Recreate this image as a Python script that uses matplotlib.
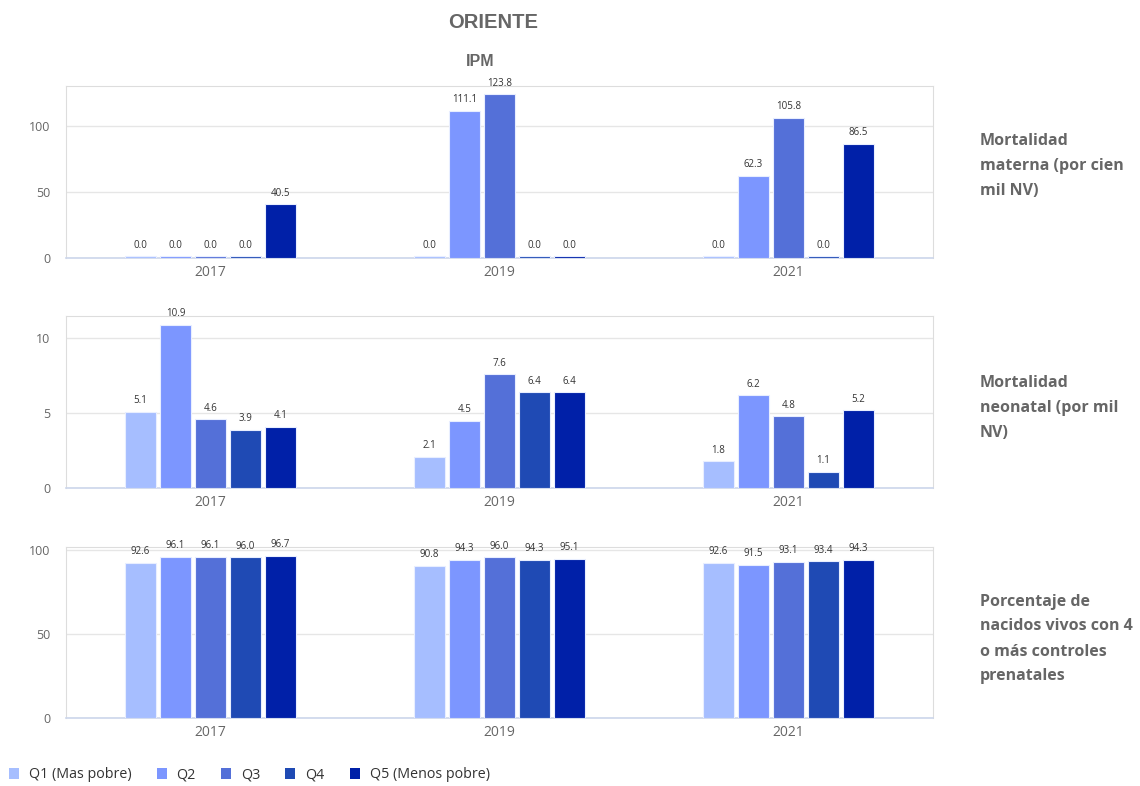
import numpy as np
import matplotlib.pyplot as plt
from matplotlib.patches import Patch

years = ["2017", "2019", "2021"]
quintiles = ["Q1 (Mas pobre)", "Q2", "Q3", "Q4", "Q5 (Menos pobre)"]
colors = ["#a6beff", "#7c96ff", "#5470d8", "#1f4ab4", "#0020a8"]

# valores por quintil (Q1..Q5) para cada año
materna = [[0.0, 0.0, 0.0, 0.0, 40.5],
           [0.0, 111.1, 123.8, 0.0, 0.0],
           [0.0, 62.3, 105.8, 0.0, 86.5]]
neonatal = [[5.1, 10.9, 4.6, 3.9, 4.1],
            [2.1, 4.5, 7.6, 6.4, 6.4],
            [1.8, 6.2, 4.8, 1.1, 5.2]]
controles = [[92.6, 96.1, 96.1, 96.0, 96.7],
             [90.8, 94.3, 96.0, 94.3, 95.1],
             [92.6, 91.5, 93.1, 93.4, 94.3]]

panel_titles = ["Mortalidad\nmaterna (por cien\nmil NV)",
                "Mortalidad\nneonatal (por mil\nNV)",
                "Porcentaje de\nnacidos vivos con 4\no más controles\nprenatales"]

plt.rcParams['font.family'] = ['Open Sans', 'DejaVu Sans']

fig = plt.figure(figsize=(11.4, 7.86), dpi=100)
W, H = 1140, 786

# data, top px, bottom px, ymax, yticks, min bar height, label center px
panels = [
    (materna, 86, 258, 130, [0, 50, 100], 1.3, 166),
    (neonatal, 316, 488, 11.5, [0, 5, 10], 0.12, 408),
    (controles, 547, 718, 102, [0, 50, 100], 1.0, 639),
]

x = np.arange(len(years))
bw = 0.105
step = 0.121

for i, (data, top, bot, ymax, yt, minh, cy) in enumerate(panels):
    ax = fig.add_axes([66 / W, 1 - bot / H, 867 / W, (bot - top) / H])
    arr = np.array(data)
    for q in range(5):
        vals = arr[:, q]
        pos = x + (q - 2) * step
        heights = np.maximum(vals, minh)
        ax.bar(pos, heights, width=bw, color=colors[q], edgecolor="#e8eeff",
               linewidth=0.8, zorder=3)
        for px, h, v in zip(pos, heights, vals):
            ax.annotate(f"{v:.1f}", (px, h), xytext=(0, 4), textcoords="offset points",
                        ha="center", va="bottom", fontsize=7, color="#333333")
    ax.set_xlim(-0.5, 2.5)
    ax.set_ylim(0, ymax)
    ax.set_yticks(yt)
    ax.set_xticks(x)
    ax.set_xticklabels(years)
    ax.grid(axis="y", color="#e6e6e6", linewidth=1, zorder=0)
    ax.tick_params(axis="both", length=0, labelcolor="#666666")
    ax.tick_params(axis="y", pad=11.5, labelsize=9)
    ax.tick_params(axis="x", pad=5, labelsize=10)
    for s in ["top", "right", "left"]:
        ax.spines[s].set_color("#dddddd")
    ax.spines["bottom"].set_color("#ccd6eb")
    ax.spines["bottom"].set_linewidth(1.2)
    fig.text(980 / W, 1 - cy / H, panel_titles[i], fontsize=11.5, fontweight="bold",
             color="#666666", ha="left", va="center", linespacing=1.75)

fig.text(493 / W, 1 - 22 / H, "ORIENTE", fontsize=14.5, fontweight="bold",
         color="#666666", ha="center", va="center", family=["Liberation Sans"])
fig.text(480 / W, 1 - 61 / H, "IPM", fontsize=11.5, fontweight="bold",
         color="#666666", ha="center", va="center", family=["Liberation Sans"])

handles = [Patch(facecolor=c, edgecolor="none") for c in colors]
fig.legend(handles, quintiles, loc="center left", bbox_to_anchor=(-4 / W, 1 - 775 / H),
           ncol=5, frameon=False, fontsize=10.3, handlelength=0.7, handleheight=0.7,
           handletextpad=0.7, columnspacing=1.75, labelcolor="#333333")

fig.savefig("out.png", dpi=100)
